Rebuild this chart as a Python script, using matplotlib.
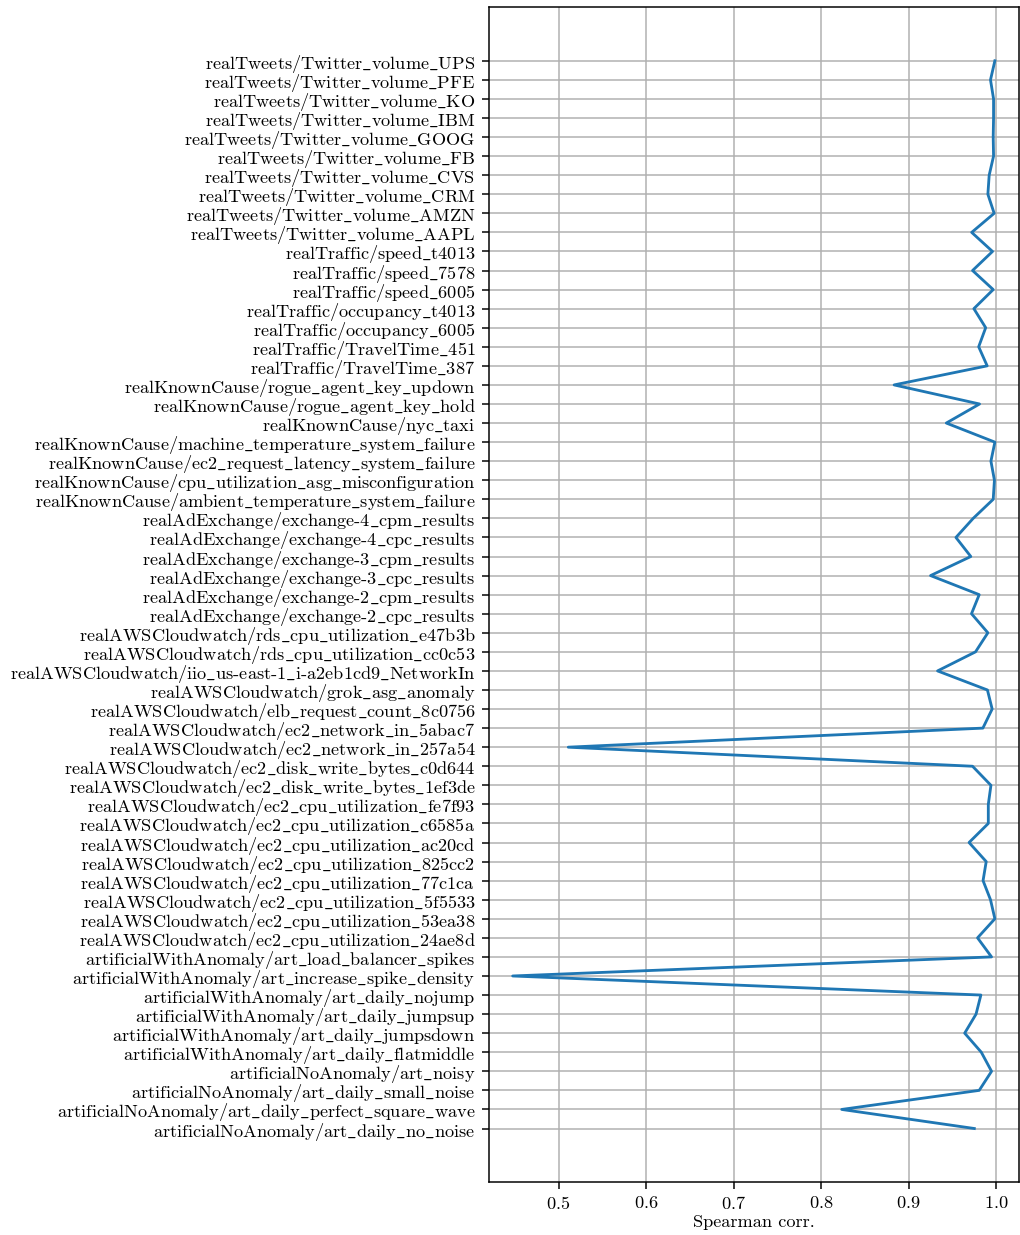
import matplotlib
matplotlib.use('Agg')
import matplotlib.pyplot as plt

# series names, bottom to top (alphabetical)
names = [
    "artificialNoAnomaly/art_daily_no_noise",
    "artificialNoAnomaly/art_daily_perfect_square_wave",
    "artificialNoAnomaly/art_daily_small_noise",
    "artificialNoAnomaly/art_noisy",
    "artificialWithAnomaly/art_daily_flatmiddle",
    "artificialWithAnomaly/art_daily_jumpsdown",
    "artificialWithAnomaly/art_daily_jumpsup",
    "artificialWithAnomaly/art_daily_nojump",
    "artificialWithAnomaly/art_increase_spike_density",
    "artificialWithAnomaly/art_load_balancer_spikes",
    "realAWSCloudwatch/ec2_cpu_utilization_24ae8d",
    "realAWSCloudwatch/ec2_cpu_utilization_53ea38",
    "realAWSCloudwatch/ec2_cpu_utilization_5f5533",
    "realAWSCloudwatch/ec2_cpu_utilization_77c1ca",
    "realAWSCloudwatch/ec2_cpu_utilization_825cc2",
    "realAWSCloudwatch/ec2_cpu_utilization_ac20cd",
    "realAWSCloudwatch/ec2_cpu_utilization_c6585a",
    "realAWSCloudwatch/ec2_cpu_utilization_fe7f93",
    "realAWSCloudwatch/ec2_disk_write_bytes_1ef3de",
    "realAWSCloudwatch/ec2_disk_write_bytes_c0d644",
    "realAWSCloudwatch/ec2_network_in_257a54",
    "realAWSCloudwatch/ec2_network_in_5abac7",
    "realAWSCloudwatch/elb_request_count_8c0756",
    "realAWSCloudwatch/grok_asg_anomaly",
    "realAWSCloudwatch/iio_us-east-1_i-a2eb1cd9_NetworkIn",
    "realAWSCloudwatch/rds_cpu_utilization_cc0c53",
    "realAWSCloudwatch/rds_cpu_utilization_e47b3b",
    "realAdExchange/exchange-2_cpc_results",
    "realAdExchange/exchange-2_cpm_results",
    "realAdExchange/exchange-3_cpc_results",
    "realAdExchange/exchange-3_cpm_results",
    "realAdExchange/exchange-4_cpc_results",
    "realAdExchange/exchange-4_cpm_results",
    "realKnownCause/ambient_temperature_system_failure",
    "realKnownCause/cpu_utilization_asg_misconfiguration",
    "realKnownCause/ec2_request_latency_system_failure",
    "realKnownCause/machine_temperature_system_failure",
    "realKnownCause/nyc_taxi",
    "realKnownCause/rogue_agent_key_hold",
    "realKnownCause/rogue_agent_key_updown",
    "realTraffic/TravelTime_387",
    "realTraffic/TravelTime_451",
    "realTraffic/occupancy_6005",
    "realTraffic/occupancy_t4013",
    "realTraffic/speed_6005",
    "realTraffic/speed_7578",
    "realTraffic/speed_t4013",
    "realTweets/Twitter_volume_AAPL",
    "realTweets/Twitter_volume_AMZN",
    "realTweets/Twitter_volume_CRM",
    "realTweets/Twitter_volume_CVS",
    "realTweets/Twitter_volume_FB",
    "realTweets/Twitter_volume_GOOG",
    "realTweets/Twitter_volume_IBM",
    "realTweets/Twitter_volume_KO",
    "realTweets/Twitter_volume_PFE",
    "realTweets/Twitter_volume_UPS",
]

spearman = [
    0.975, 0.8235, 0.9806, 0.9947, 0.983, 0.964, 0.977, 0.9825, 0.4475, 0.9947,
    0.9787, 0.9985, 0.9935, 0.985, 0.9886, 0.969, 0.991, 0.991, 0.994, 0.973,
    0.511, 0.9848, 0.9954, 0.990, 0.933, 0.9764, 0.9905, 0.9718, 0.9806, 0.925,
    0.971, 0.954, 0.9737, 0.9966, 0.998, 0.994, 0.9985, 0.943, 0.981, 0.8834,
    0.9897, 0.980, 0.988, 0.9745, 0.9966, 0.973, 0.9958, 0.972, 0.9977, 0.9905,
    0.992, 0.997, 0.9966, 0.997, 0.997, 0.9935, 0.9985,
]

plt.rcParams['font.family'] = ['cmr10', 'DejaVu Serif']
plt.rcParams['mathtext.fontset'] = 'cm'
plt.rcParams['axes.formatter.use_mathtext'] = True
plt.rcParams['font.size'] = 9.75

DPI = 135
fig, ax = plt.subplots(figsize=(1020 / DPI, 1235 / DPI), dpi=DPI)
fig.subplots_adjust(left=0.479, right=0.999, top=0.994, bottom=0.043)

# cmr10 has no underscore glyph, so draw it through mathtext
labels = [n.replace('_', r'$\_$') for n in names]

ypos = list(range(len(names)))
ax.plot(spearman, ypos, color='#1f77b4', linewidth=1.5)
ax.set_yticks(ypos)
ax.set_yticklabels(labels)
ax.grid(True)
ax.set_axisbelow(True)
ax.set_xlabel('Spearman corr.', labelpad=1.5)

fig.savefig('out.png', dpi=DPI)
